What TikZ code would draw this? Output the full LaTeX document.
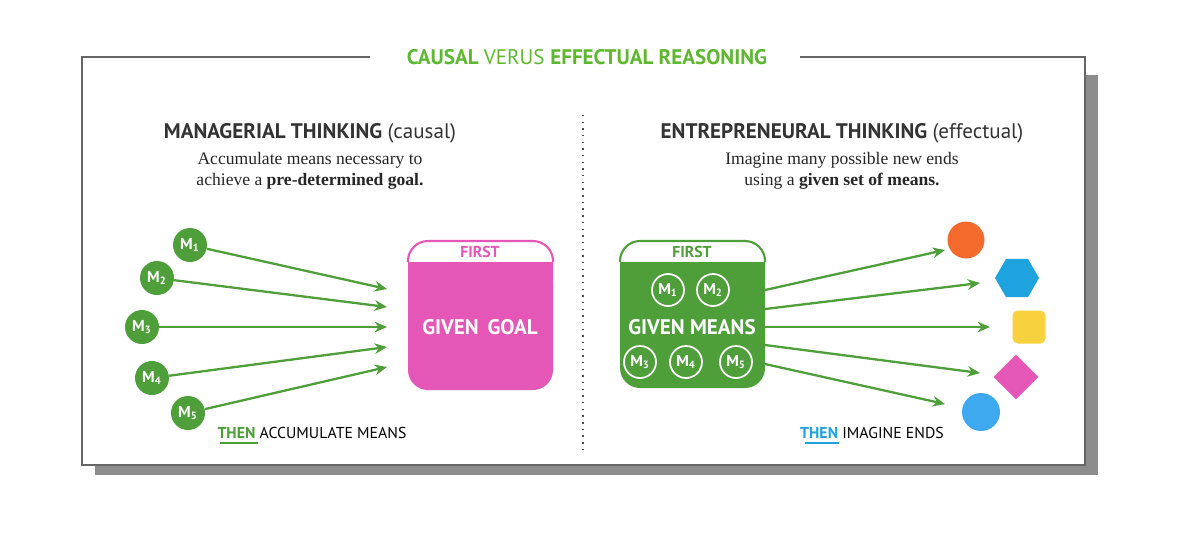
\documentclass[tikz,border=0pt]{standalone}
\usepackage{fontspec}
\setsansfont{PT Sans}
\setmainfont{Liberation Serif}
\usetikzlibrary{shapes.geometric,arrows.meta}
\definecolor{grn}{HTML}{4E9E3A}
\definecolor{tgrn}{HTML}{5DB82F}
\definecolor{pnk}{HTML}{E457B6}
\definecolor{org}{HTML}{F46A2C}
\definecolor{cyn}{HTML}{1FA3DF}
\definecolor{ylw}{HTML}{F8D23E}
\definecolor{lblu}{HTML}{3FA9F0}
\tikzset{
 mean/.style={circle,fill=grn,minimum size=34\px,inner sep=0pt,text=white,font=\sffamily\bfseries\small},
 imean/.style={circle,draw=white,line width=1pt,minimum size=32\px,inner sep=0pt,text=white,font=\sffamily\bfseries\small},
 arr/.style={draw=grn,line width=1.3pt,-{Stealth[length=7pt,width=6pt]}},
 lab/.style={font=\sffamily\small},
 head/.style={font=\sffamily\bfseries\large,text=black!80},
 sub/.style={font=\normalsize,align=center,text=black!85},
}
\newlength{\px}\setlength{\px}{0.02cm}
\begin{document}
\begin{tikzpicture}[x=0.02cm,y=-0.02cm]
\useasboundingbox (0,0) rectangle (1200,538);
\fill[white] (0,0) rectangle (1200,538);
% shadow
\fill[black!45] (1085,75) rectangle (1098,475);
\fill[black!45] (95,465) rectangle (1098,475);
% frame
\fill[white] (82,57) rectangle (1085,465);
\draw[black!60,line width=0.6pt] (370,57) -| (82,465) -| (1085,57) -- (800,57);
\node[fill=white,inner xsep=6pt] (title) at (587,57) {\sffamily\bfseries\large\color{tgrn}CAUSAL \mdseries VERUS \bfseries EFFECTUAL REASONING};
% divider
\draw[black!70,line width=1.2pt,dash pattern=on 0.8pt off 3pt] (583,115) -- (583,450);
% headings
\node[head] (hl) at (310,133) {MANAGERIAL THINKING \mdseries(causal)};
\node[sub] (sl) at (310,171) {Accumulate means necessary to\\achieve a \textbf{pre-determined goal.}};
\node[head] (hr) at (842,133) {ENTREPRENEURAL THINKING \mdseries(effectual)};
\node[sub] (sr) at (842,171) {Imagine many possible new ends\\using a \textbf{given set of means.}};
% left
\foreach \n/\x/\y in {1/190/245,2/157/278,3/142/327,4/152/378,5/188/413}
  \node[mean] (m\n) at (\x,\y) {M\textsubscript{\n}};
\foreach \n/\y in {1/289,2/307,3/327,4/347,5/367}{
  \coordinate (e\n) at (387,\y);
  \draw[arr] (m\n) -- (e\n);}
\draw[pnk,line width=1.2pt,rounded corners=20\px,fill=white] (408,262) |- (553,241) -- (553,262);
\fill[pnk,rounded corners=20\px] (408,262) -- (408,390) -- (553,390) -- (553,262) -- cycle;
\fill[pnk] (408,262) rectangle (553,280);
\node[text=pnk,font=\sffamily\bfseries\small] (f1) at (480,252) {FIRST};
\node[text=white,font=\sffamily\bfseries\large] (goal) at (480,327) {GIVEN\, GOAL};
\node[lab] (t1) at (312,433) {\textcolor{grn}{\bfseries THEN} ACCUMULATE MEANS};
\draw[grn,line width=1.2pt] (220,443) -- (258,443);
% right
\draw[grn,line width=1.2pt,rounded corners=20\px,fill=white] (620,262) |- (765,241) -- (765,262);
\fill[grn,rounded corners=20\px] (620,262) -- (620,388) -- (765,388) -- (765,262) -- cycle;
\fill[grn] (620,262) rectangle (765,280);
\node[text=grn,font=\sffamily\bfseries\small] (f2) at (692,252) {FIRST};
\node[text=white,font=\sffamily\bfseries\large] (gm) at (692,327) {GIVEN MEANS};
\foreach \n/\x/\y in {1/668/290,2/713/290,3/640/362,4/686/362,5/736/362}
  \node[imean] (i\n) at (\x,\y) {M\textsubscript{\n}};
\foreach \n/\ya/\x/\y in {1/290/945/250,2/309/980/283,3/327/990/327,4/345/980/373,5/364/945/404}{
  \coordinate (s\n) at (765,\ya);
  \coordinate (d\n) at (\x,\y);
  \draw[arr] (s\n) -- (d\n);}
\node[circle,fill=org,minimum size=37\px,inner sep=0pt] (c1) at (966,240) {};
\node[regular polygon,regular polygon sides=6,fill=cyn,minimum size=44\px,inner sep=0pt] (c2) at (1017,278) {};
\node[fill=ylw,rounded corners=3pt,minimum size=33\px,inner sep=0pt] (c3) at (1029,327) {};
\node[diamond,fill=pnk,minimum size=45\px,inner sep=0pt] (c4) at (1016,377) {};
\node[circle,fill=lblu,minimum size=38\px,inner sep=0pt] (c5) at (981,412) {};
\node[lab] (t2) at (872,433) {\textcolor{cyn}{\bfseries THEN} IMAGINE ENDS};
\draw[cyn,line width=1.2pt] (805,443) -- (839,443);
\end{tikzpicture}
\end{document}
